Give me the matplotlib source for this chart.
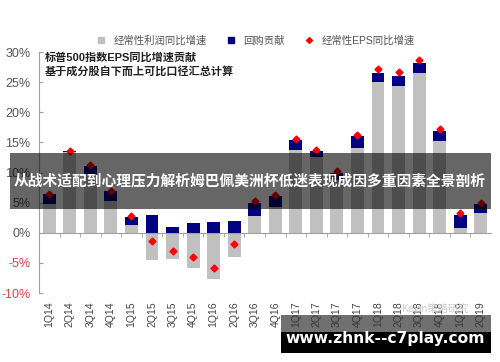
import matplotlib
matplotlib.use("Agg")
import matplotlib.pyplot as plt
from matplotlib.lines import Line2D
from matplotlib.patches import Rectangle
import numpy as np

plt.rcParams['font.family'] = ['Liberation Sans', 'Noto Sans CJK SC', 'DejaVu Sans']

# quarters
quarters = ['1Q14', '2Q14', '3Q14', '4Q14', '1Q15', '2Q15', '3Q15', '4Q15',
            '1Q16', '2Q16', '3Q16', '4Q16', '1Q17', '2Q17', '3Q17', '4Q17',
            '1Q18', '2Q18', '3Q18', '4Q18', '1Q19', '2Q19']
# recurring profit yoy (%)
profit = [4.7, 13.4, 9.8, 5.2, 1.3, -4.5, -4.3, -5.8, -7.7, -4.0, 2.8, 4.3,
          13.7, 12.5, 8.7, 14.0, 25.0, 24.3, 26.5, 15.2, 0.8, 3.3]
# buyback contribution (%)
buyback = [1.7, 0.2, 1.3, 1.7, 1.3, 3.0, 1.0, 1.7, 1.8, 2.0, 2.2, 1.8,
           1.7, 1.0, 1.3, 2.0, 1.5, 1.8, 1.7, 1.7, 2.2, 1.5]
# recurring EPS yoy (%)
eps = [6.5, 13.6, 11.2, 7.0, 2.7, -1.3, -3.0, -4.1, -5.8, -1.9, 5.2, 6.3,
       15.5, 13.8, 10.3, 16.3, 27.1, 26.7, 28.7, 17.2, 3.2, 5.0]
yticks = [-10, -5, 0, 5, 10, 15, 20, 25, 30]

x = np.arange(len(quarters))
bottoms = np.maximum(np.array(profit), 0)

fig = plt.figure(figsize=(5, 3.62), dpi=100)
ax = fig.add_axes([0.078, 0.1906, 0.904, 0.6657])

ax.bar(x, profit, width=0.63, color='#c0c0c0', zorder=2)
ax.bar(x, buyback, bottom=bottoms, width=0.63, color='#000080', zorder=3)
ax.plot(x, eps, 'D', color='red', markersize=3.5, zorder=4)

ax.set_xlim(-0.5, len(quarters) - 0.5)
ax.set_ylim(-10, 30)
ax.set_yticks(yticks)
ax.set_yticklabels([f'{v}%' for v in yticks], fontsize=9)
for lab, v in zip(ax.get_yticklabels(), yticks):
    lab.set_color('#d9414f' if v < 0 else '#555555')

for s in ['top', 'right']:
    ax.spines[s].set_visible(False)
ax.spines['left'].set_color('#a0a0a0')
ax.spines['bottom'].set_color('#a0a0a0')
ax.spines['bottom'].set_position(('data', 0))
ax.tick_params(axis='y', direction='in', length=3, color='#a0a0a0', pad=6)
ax.set_xticks(x)
ax.set_xticklabels([])
ax.tick_params(axis='x', which='major', length=0)
ax.set_xticks(x[:-1] + 0.5, minor=True)
ax.tick_params(axis='x', which='minor', direction='out', length=3, color='#a0a0a0')

for xi, q in zip(x, quarters):
    ax.text(xi, -0.035, q, transform=ax.get_xaxis_transform(), rotation=90,
            ha='center', va='top', fontsize=7.5, color='#444444')

handles = [Line2D([], [], marker='s', ls='none', color='#c0c0c0', markersize=4),
           Line2D([], [], marker='s', ls='none', color='#000080', markersize=4),
           Line2D([], [], marker='D', ls='none', color='red', markersize=3)]
fig.legend(handles, ['经常性利润同比增速', '回购贡献', '经常性EPS同比增速'],
           loc='center', bbox_to_anchor=(0.505, 0.887), ncol=3, frameon=False,
           fontsize=7.5, handletextpad=0.2, columnspacing=1.3, labelcolor='#555555')

fig.text(0.09, 0.8425, '标普500指数EPS同比增速贡献', fontsize=8, fontweight='bold',
         va='center', color='#222222')
fig.text(0.09, 0.804, '基于成分股自下而上可比口径汇总计算', fontsize=8, fontweight='bold',
         va='center', color='#222222')

# overlay banner
fig.patches.append(Rectangle((0.02, 0.4227), 0.962, 0.1547, transform=fig.transFigure,
                             facecolor='black', alpha=0.6, zorder=10))
fig.text(0.5, 0.5, '从战术适配到心理压力解析姆巴佩美洲杯低迷表现成因多重因素全景剖析',
         ha='center', va='center', fontsize=10.6, fontweight='bold', color='white', zorder=11)

# watermarks
fig.text(0.87, 0.144, 'Kevin策略研究', ha='center', va='center', fontsize=7.5,
         color='#cccccc', zorder=9)
fig.patches.append(Rectangle((0.562, 0.083), 0.42, 0.047, transform=fig.transFigure,
                             facecolor='#333333', alpha=0.7, zorder=10))
fig.patches.append(Rectangle((0.562, 0.025), 0.42, 0.058, transform=fig.transFigure,
                             facecolor='black', zorder=10))
fig.text(0.77, 0.064, 'www.zhnk--c7play.com', ha='center', va='center', fontsize=11.2,
         fontweight='bold', color='white', family='DejaVu Sans', zorder=11)

fig.savefig('out.png', dpi=100)
